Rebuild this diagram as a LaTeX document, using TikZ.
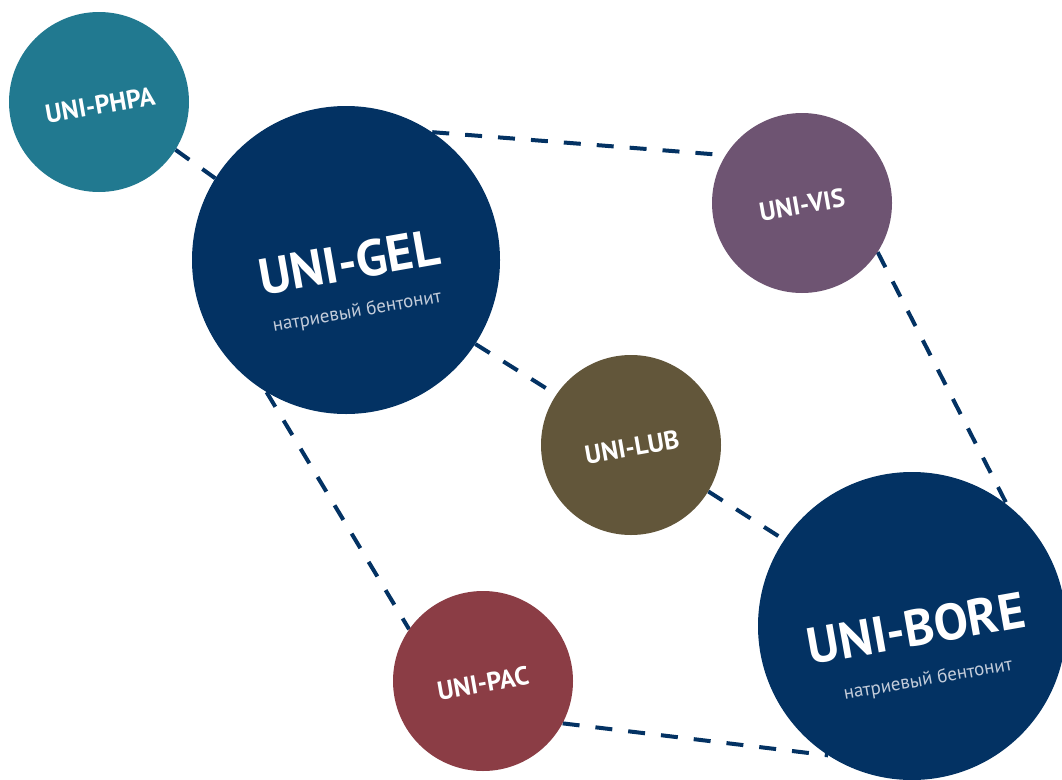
\documentclass[tikz,border=0pt]{standalone}
\usepackage{fontspec}
\setmainfont{PT Sans}
\usepackage{tikz}
\usetikzlibrary{backgrounds}

\definecolor{navyblue}{HTML}{033263}
\definecolor{tealblue}{HTML}{217990}
\definecolor{plum}{HTML}{6E5472}
\definecolor{olive}{HTML}{62563A}
\definecolor{brick}{HTML}{8B3D45}
\definecolor{subgrey}{HTML}{C3CCDA}

\begin{document}
\begin{tikzpicture}[
		x=1pt, y=-1pt,
		bubble/.style={circle, draw=none, inner sep=0pt, minimum size=180pt},
		bigbubble/.style={circle, draw=none, inner sep=0pt, minimum size=308pt},
		smalltitle/.style={text=white, inner sep=0pt, font=\bfseries\fontsize{26}{26}\selectfont, rotate=10},
		bigtitle/.style={text=white, inner sep=0pt, font=\bfseries\fontsize{51}{51}\selectfont, rotate=10},
		subtitle/.style={text=subgrey, inner sep=0pt, font=\fontsize{19}{19}\selectfont, rotate=10},
		link/.style={draw=navyblue, line width=4pt, dash pattern=on 17pt off 16pt}
	]

	\useasboundingbox (0,0) rectangle (1062,779);

	\node[bubble, fill=tealblue] (phpa) at (99,102) {};
	\node[bigbubble, fill=navyblue] (gel) at (346,260) {};
	\node[bubble, fill=plum] (vis) at (802,203) {};
	\node[bubble, fill=olive] (lub) at (631,445) {};
	\node[bubble, fill=brick] (pac) at (483,681) {};
	\node[bigbubble, fill=navyblue] (bore) at (912,626) {};

	\node[smalltitle] (phpaname) at ([shift={(1,3)}]phpa.center) {UNI-PHPA};
	\node[bigtitle] (gelname) at ([shift={(3,2)}]gel.center) {UNI-GEL};
	\node[subtitle] (geltype) at ([shift={(11,52)}]gel.center) {натриевый бентонит};
	\node[smalltitle] (visname) at ([shift={(0,2)}]vis.center) {UNI-VIS};
	\node[smalltitle] (lubname) at ([shift={(1,2)}]lub.center) {UNI-LUB};
	\node[smalltitle] (pacname) at ([shift={(0,2)}]pac.center) {UNI-PAC};
	\node[bigtitle] (borename) at ([shift={(4,2)}]bore.center) {UNI-BORE};
	\node[subtitle] (boretype) at ([shift={(16,54)}]bore.center) {натриевый бентонит};

	\begin{pgfonlayer}{background}
		\draw[link] (phpa.-32) -- (gel.148);
		\draw[link] (gel.56) -- (vis.148);
		\draw[link] (vis.-33) -- (bore.52);
		\draw[link] (gel.-33) -- (lub.146);
		\draw[link] (lub.-31) -- (bore.146);
		\draw[link] (gel.-121) -- (pac.145);
		\draw[link] (pac.-28) -- (bore.-123);
	\end{pgfonlayer}
\end{tikzpicture}
\end{document}
